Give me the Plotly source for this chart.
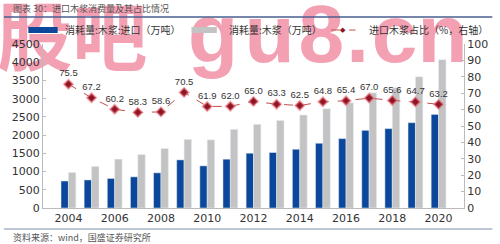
import plotly.graph_objects as go

years = [str(y) for y in range(2004, 2021)]
import_pulp = [740, 770, 810, 855, 965, 1320, 1156, 1339, 1503, 1522, 1612, 1776, 1904, 2131, 2178, 2341, 2568]
total_pulp = [975, 1140, 1340, 1465, 1630, 1880, 1870, 2158, 2295, 2404, 2549, 2724, 2888, 3161, 3298, 3598, 4071]
import_share = [75.5, 67.2, 60.2, 58.3, 58.6, 70.5, 61.9, 62.0, 65.0, 63.3, 62.5, 64.8, 65.4, 67.0, 65.6, 64.7, 63.2]
tick_years = [str(y) for y in range(2004, 2021, 2)]

name_import = "消耗量:木浆:进口（万吨）"
name_total = "消耗量:木浆（万吨）"
name_share = "进口木浆占比（%，右轴）"

BLUE = "#0B479B"
GRAY = "#C3C3C3"
LINE = "#C0504D"
MARK = "#8E1525"
PINK = "#F4A0B3"
CJK = "Noto Sans CJK SC"
NUM = "DejaVu Sans"

fig = go.Figure()
fig.add_trace(go.Bar(x=years, y=import_pulp, name=name_import, marker_color=BLUE, showlegend=False))
fig.add_trace(go.Bar(x=years, y=total_pulp, name=name_total, marker_color=GRAY, showlegend=False))
fig.add_trace(go.Scatter(
    x=years, y=import_share, name=name_share, yaxis="y2", mode="lines+markers+text",
    line=dict(color=LINE, width=1, dash="dash"),
    marker=dict(symbol="diamond", size=7, color=MARK, line=dict(color="rgba(240,120,130,0.55)", width=2)),
    text=[f"{v:.1f}" for v in import_share], textposition="top center",
    textfont=dict(family="Liberation Sans", size=9.5, color="#333333"), showlegend=False, cliponaxis=False))

def px2x(px):
    return (px - 40) / 431

def py2y(py):
    return (208 - py) / 164

def wm_shape(text, x0, x1, y0, y1, size, family):
    return dict(type="rect", xref="paper", yref="paper", layer="below",
                x0=px2x(x0), x1=px2x(x1), y0=py2y(y1), y1=py2y(y0),
                fillcolor="rgba(0,0,0,0)", line=dict(width=0),
                label=dict(text=text, textposition="middle center",
                           font=dict(family=family, size=size, color=PINK, weight="bold")))

shapes = [
    # watermark (under everything)
    wm_shape("股吧", -2, 142, 12, 76, 75, CJK),
]
wm_chars = ["g", "u", "8", ".", "c", "n"]
wm_centers = [214, 272, 325, 362, 400, 449]
for ch, cx in zip(wm_chars, wm_centers):
    shapes.append(wm_shape(ch, cx - 30, cx + 30, -4, 54, 82, "Liberation Sans"))

shapes += [
    dict(type="line", xref="paper", yref="paper", x0=px2x(0), x1=px2x(500), y0=py2y(17), y1=py2y(17),
         line=dict(color="#4A5F8F", width=1.5)),
    dict(type="line", xref="paper", yref="paper", x0=px2x(0), x1=px2x(500), y0=py2y(229), y1=py2y(229),
         line=dict(color="#7F8FAF", width=1)),
    # legend swatches
    dict(type="rect", xref="paper", yref="paper", x0=px2x(25), x1=px2x(55), y0=py2y(33), y1=py2y(27),
         fillcolor=BLUE, line=dict(width=0)),
    dict(type="rect", xref="paper", yref="paper", x0=px2x(192), x1=px2x(218), y0=py2y(33), y1=py2y(27),
         fillcolor=GRAY, line=dict(width=0)),
    dict(type="line", xref="paper", yref="paper", x0=px2x(335), x1=px2x(360), y0=py2y(30), y1=py2y(30),
         line=dict(color=LINE, width=1, dash="dash")),
]

annotations = [
    dict(text="图表 30：进口木浆消费量及其占比情况", xref="paper", yref="paper", x=px2x(7), y=py2y(8),
         xanchor="left", yanchor="middle", showarrow=False, font=dict(family=CJK, size=9, color="#555555")),
    dict(text="资料来源：wind，国盛证券研究所", xref="paper", yref="paper", x=px2x(7), y=py2y(237),
         xanchor="left", yanchor="middle", showarrow=False, font=dict(family=CJK, size=9, color="#555555")),
    dict(text=name_import, xref="paper", yref="paper", x=px2x(60), y=py2y(30),
         xanchor="left", yanchor="middle", showarrow=False, font=dict(family=CJK, size=10, color="#333333")),
    dict(text=name_total, xref="paper", yref="paper", x=px2x(228), y=py2y(30),
         xanchor="left", yanchor="middle", showarrow=False, font=dict(family=CJK, size=10, color="#333333")),
    dict(text=name_share, xref="paper", yref="paper", x=px2x(372), y=py2y(30),
         xanchor="left", yanchor="middle", showarrow=False, font=dict(family=CJK, size=10, color="#333333")),
    dict(text="◆", xref="paper", yref="paper", x=px2x(347), y=py2y(30),
         xanchor="center", yanchor="middle", showarrow=False, font=dict(family=NUM, size=7, color=MARK)),
]

fig.update_layout(
    width=500, height=244, margin=dict(l=40, r=29, t=44, b=36),
    paper_bgcolor="white", plot_bgcolor="rgba(0,0,0,0)",
    barmode="group", bargap=0.36, bargroupgap=0,
    font=dict(family=NUM, size=11, color="#333333"),
    xaxis=dict(type="category", tickvals=tick_years, ticktext=tick_years, showline=True,
               linecolor="#BBBBBB", linewidth=1, ticks="", showgrid=False,
               tickfont=dict(family=NUM, size=11, color="#333333")),
    yaxis=dict(range=[0, 4500], dtick=500, showgrid=False, showline=True, linecolor="#BBBBBB",
               ticks="inside", ticklen=3, tickcolor="#BBBBBB", zeroline=False,
               tickfont=dict(family=NUM, size=11, color="#333333")),
    yaxis2=dict(range=[0, 100], dtick=10, overlaying="y", side="right", showgrid=False,
                showline=True, linecolor="#BBBBBB", ticks="inside", ticklen=3, tickcolor="#BBBBBB",
                zeroline=False, tickfont=dict(family=NUM, size=11, color="#333333")),
    shapes=shapes, annotations=annotations,
)

fig.write_html("out.html")
